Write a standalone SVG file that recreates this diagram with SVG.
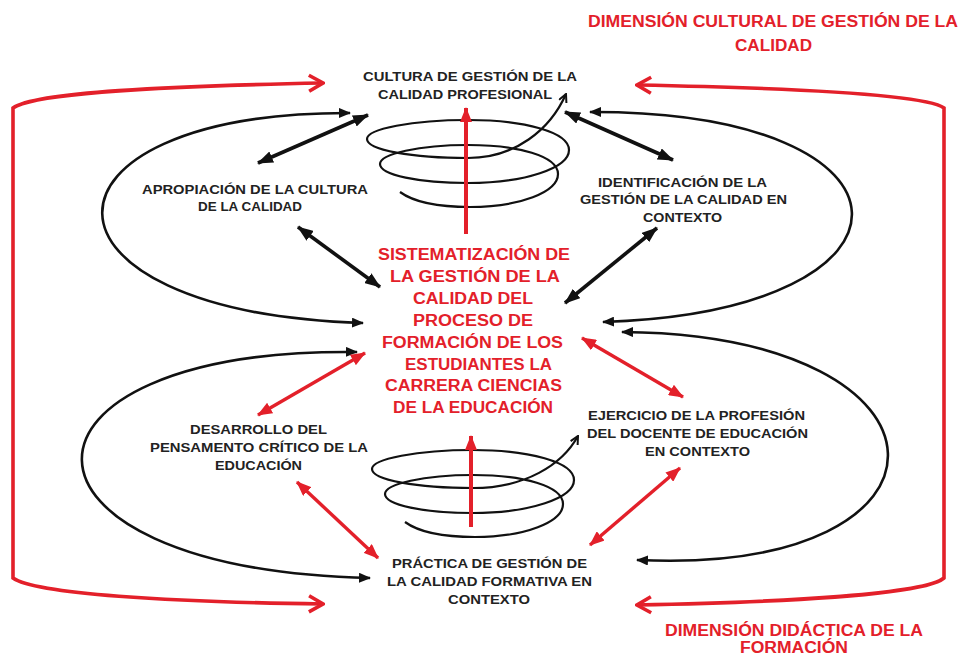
<svg xmlns="http://www.w3.org/2000/svg" width="963" height="657" viewBox="0 0 963 657">
<style>
.bk{font-family:"Liberation Sans",Arial,sans-serif;font-weight:bold;font-size:13px;fill:#222}
.rc{font-family:"Liberation Sans",Arial,sans-serif;font-weight:bold;font-size:16px;fill:#e3202a}
.tt{font-family:"Liberation Sans",Arial,sans-serif;font-weight:bold;font-size:16px;fill:#e3202a}
.arc{fill:none;stroke:#111;stroke-width:2.6;marker-start:url(#hs);marker-end:url(#hs)}
.dbk{fill:none;stroke:#111;stroke-width:3.6;marker-start:url(#hb);marker-end:url(#hb)}
.drd{fill:none;stroke:#e3202a;stroke-width:3.4;marker-start:url(#hr);marker-end:url(#hr)}
.brk{fill:none;stroke:#e3202a;stroke-width:3.6;marker-start:url(#hv);marker-end:url(#hv)}
.up{fill:none;stroke:#e3202a;stroke-width:4;marker-end:url(#hr)}
.sp{fill:none;stroke:#111;stroke-width:2.2;marker-end:url(#hsp)}
</style>
<defs>
<marker id="hb" viewBox="0 0 16 12" refX="15" refY="6" markerWidth="16" markerHeight="12" markerUnits="userSpaceOnUse" orient="auto-start-reverse"><path d="M0,0 L16,6 L0,12 z" fill="#111"/></marker>
<marker id="hs" viewBox="0 0 12 10" refX="11" refY="5" markerWidth="12" markerHeight="10" markerUnits="userSpaceOnUse" orient="auto-start-reverse"><path d="M0,0 L12,5 L0,10 z" fill="#111"/></marker>
<marker id="hr" viewBox="0 0 15 12" refX="14" refY="6" markerWidth="15" markerHeight="12" markerUnits="userSpaceOnUse" orient="auto-start-reverse"><path d="M0,0 L15,6 L0,12 z" fill="#e3202a"/></marker>
<marker id="hv" viewBox="0 0 18 20" refX="16" refY="10" markerWidth="18" markerHeight="20" markerUnits="userSpaceOnUse" orient="auto-start-reverse"><path d="M2,2 L16,10 L2,18" fill="none" stroke="#e3202a" stroke-width="3.6"/></marker>
<marker id="hsp" viewBox="0 0 10 10" refX="9" refY="5" markerWidth="10" markerHeight="10" markerUnits="userSpaceOnUse" orient="auto"><path d="M1,1 L9,5 L1,9" fill="none" stroke="#111" stroke-width="2"/></marker>
</defs>
<rect width="963" height="657" fill="#fff"/>

<g id="connectors">
  <!-- red dimension brackets -->
  <path class="brk" d="M323 83 C170 86 35 92 13 108 L13 578 C35 594 170 602 323 604"/>
  <path class="brk" d="M637 85 C790 88 925 94 944 108 L944 578 C925 594 790 602 637 605"/>
  <!-- black loops -->
  <path class="arc" d="M350 113 C20 112 15 312 363 323"/>
  <path class="arc" d="M590 112 C935 111 939 311 603 322"/>
  <path class="arc" d="M357 352 C-10 348 -14 569 370 578"/>
  <path class="arc" d="M622 332 C972 335 976 576 637 560"/>
  <!-- black double arrows -->
  <path class="dbk" d="M368 115 L258 163"/>
  <path class="dbk" d="M298 227 L380 287"/>
  <path class="dbk" d="M565 112 L673 160"/>
  <path class="dbk" d="M657 228 L565 303"/>
  <!-- red double arrows -->
  <path class="drd" d="M365 353 L258 415"/>
  <path class="drd" d="M297 482 L378 558"/>
  <path class="drd" d="M582 338 L683 397"/>
  <path class="drd" d="M680 468 L590 545"/>
  <!-- spirals -->
  <path class="sp" d="M400 192 C415 203 440 207 470 207 C520 207 558 192 558 174 C558 156 518 145 468 145 C419 145 380 154 380 164 C380 175 419 183 468 183 C525 183 569 168 569 150 C569 132 524 120 468 120 C412 120 367 129 367 139 C367 150 412 158 468 158 C515 158 550 130 566 94"/>
  <path class="sp" d="M405 522 C420 533 445 537 475 537 C525 537 563 522 563 504 C563 486 523 475 473 475 C424 475 385 484 385 494 C385 505 424 513 473 513 C530 513 574 498 574 480 C574 462 529 450 473 450 C417 450 372 459 372 469 C372 480 417 488 473 488 C525 488 562 465 578 436"/>
  <!-- red upward arrows -->
  <path class="up" d="M466 234 L466 108"/>
  <path class="up" d="M471 527 L471 436"/>
</g>

<g id="dim-cultural">
  <text class="tt" x="588" y="27" textLength="370" lengthAdjust="spacingAndGlyphs">DIMENSIÓN CULTURAL DE GESTIÓN DE LA</text>
  <text class="tt" x="735" y="51" textLength="77" lengthAdjust="spacingAndGlyphs">CALIDAD</text>
</g>
<g id="dim-didactica">
  <text class="tt" x="665" y="636" textLength="258" lengthAdjust="spacingAndGlyphs">DIMENSIÓN DIDÁCTICA DE LA</text>
  <text class="tt" x="740" y="653" textLength="108" lengthAdjust="spacingAndGlyphs">FORMACIÓN</text>
</g>
<g id="cultura">
  <text class="bk" x="363" y="81" textLength="214" lengthAdjust="spacingAndGlyphs">CULTURA DE GESTIÓN DE LA</text>
  <text class="bk" x="378" y="99" textLength="174" lengthAdjust="spacingAndGlyphs">CALIDAD PROFESIONAL</text>
</g>
<g id="apropiacion">
  <text class="bk" x="142" y="194" textLength="226" lengthAdjust="spacingAndGlyphs">APROPIACIÓN  DE LA CULTURA</text>
  <text class="bk" x="198" y="211" textLength="104" lengthAdjust="spacingAndGlyphs">DE LA CALIDAD</text>
</g>
<g id="identificacion">
  <text class="bk" x="598" y="187" textLength="169" lengthAdjust="spacingAndGlyphs">IDENTIFICACIÓN  DE LA</text>
  <text class="bk" x="580" y="204" textLength="207" lengthAdjust="spacingAndGlyphs">GESTIÓN DE LA CALIDAD EN</text>
  <text class="bk" x="643" y="222" textLength="79" lengthAdjust="spacingAndGlyphs">CONTEXTO</text>
</g>
<g id="sistematizacion">
  <text class="rc" x="378" y="260" textLength="192" lengthAdjust="spacingAndGlyphs">SISTEMATIZACIÓN  DE</text>
  <text class="rc" x="390" y="282" textLength="170" lengthAdjust="spacingAndGlyphs">LA  GESTIÓN DE LA</text>
  <text class="rc" x="413" y="304" textLength="120" lengthAdjust="spacingAndGlyphs">CALIDAD DEL</text>
  <text class="rc" x="413" y="326" textLength="120" lengthAdjust="spacingAndGlyphs">PROCESO DE</text>
  <text class="rc" x="382" y="348" textLength="181" lengthAdjust="spacingAndGlyphs">FORMACIÓN DE LOS</text>
  <text class="rc" x="405" y="370" textLength="147" lengthAdjust="spacingAndGlyphs">ESTUDIANTES LA</text>
  <text class="rc" x="385" y="391" textLength="177" lengthAdjust="spacingAndGlyphs">CARRERA CIENCIAS</text>
  <text class="rc" x="393" y="413" textLength="160" lengthAdjust="spacingAndGlyphs">DE LA EDUCACIÓN</text>
</g>
<g id="desarrollo">
  <text class="bk" x="190" y="434" textLength="137" lengthAdjust="spacingAndGlyphs">DESARROLLO DEL</text>
  <text class="bk" x="150" y="452" textLength="218" lengthAdjust="spacingAndGlyphs">PENSAMENTO  CRÍTICO DE LA</text>
  <text class="bk" x="215" y="470" textLength="87" lengthAdjust="spacingAndGlyphs">EDUCACIÓN</text>
</g>
<g id="ejercicio">
  <text class="bk" x="588" y="420" textLength="217" lengthAdjust="spacingAndGlyphs">EJERCICIO DE LA PROFESIÓN</text>
  <text class="bk" x="587" y="438" textLength="221" lengthAdjust="spacingAndGlyphs">DEL DOCENTE DE EDUCACIÓN</text>
  <text class="bk" x="645" y="456" textLength="105" lengthAdjust="spacingAndGlyphs">EN  CONTEXTO</text>
</g>
<g id="practica">
  <text class="bk" x="392" y="568" textLength="195" lengthAdjust="spacingAndGlyphs">PRÁCTICA DE GESTIÓN DE</text>
  <text class="bk" x="387" y="586" textLength="205" lengthAdjust="spacingAndGlyphs">LA CALIDAD FORMATIVA  EN</text>
  <text class="bk" x="448" y="604" textLength="82" lengthAdjust="spacingAndGlyphs">CONTEXTO</text>
</g>
</svg>
